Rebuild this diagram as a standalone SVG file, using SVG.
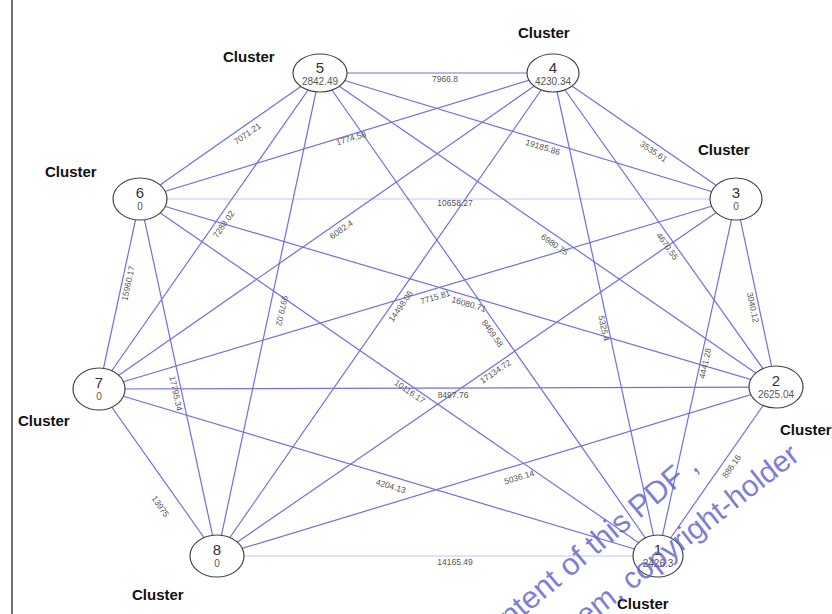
<svg xmlns="http://www.w3.org/2000/svg" width="832" height="614" viewBox="0 0 832 614">
<style>
.e{stroke:#6f6fe6;stroke-width:1.2;fill:none}
.el{stroke:#c4c4f5;stroke-width:1.2}
.lb{font-family:"Liberation Sans",Arial,sans-serif;font-size:8.5px;fill:#555;text-anchor:middle}
.nd{fill:#fff;stroke:#444;stroke-width:1.2}
.num{font-family:"Liberation Sans",Arial,sans-serif;font-size:15px;fill:#333;text-anchor:middle}
.val{font-family:"Liberation Sans",Arial,sans-serif;font-size:10px;fill:#555;text-anchor:middle}
.cl{font-family:"Liberation Sans",Arial,sans-serif;font-size:15px;font-weight:bold;fill:#111}
.wm{font-family:"Liberation Sans",Arial,sans-serif;fill:#5a5acc;fill-opacity:0.8}
</style>
<rect width="832" height="614" fill="#fff"/>
<line x1="12" y1="0" x2="12" y2="614" stroke="#444" stroke-width="1.5"/>
<g id="connectors">
<line class="e" x1="320" y1="73" x2="553" y2="73"/>
<line class="e" x1="320" y1="73" x2="140" y2="199"/>
<line class="e" x1="553" y1="73" x2="140" y2="199"/>
<line class="e" x1="320" y1="73" x2="736" y2="199"/>
<line class="e" x1="553" y1="73" x2="736" y2="199"/>
<line class="e el" x1="140" y1="199" x2="736" y2="199"/>
<line class="e" x1="320" y1="73" x2="99" y2="389"/>
<line class="e" x1="553" y1="73" x2="99" y2="389"/>
<line class="e" x1="320" y1="73" x2="217" y2="556"/>
<line class="e" x1="140" y1="199" x2="99" y2="389"/>
<line class="e" x1="140" y1="199" x2="217" y2="556"/>
<line class="e" x1="99" y1="389" x2="217" y2="556"/>
<line class="e" x1="99" y1="389" x2="776" y2="387"/>
<line class="e" x1="140" y1="199" x2="776" y2="387"/>
<line class="e" x1="99" y1="389" x2="736" y2="199"/>
<line class="e" x1="553" y1="73" x2="217" y2="556"/>
<line class="e" x1="320" y1="73" x2="658" y2="556"/>
<line class="e" x1="217" y1="556" x2="736" y2="199"/>
<line class="e" x1="140" y1="199" x2="658" y2="556"/>
<line class="e" x1="99" y1="389" x2="658" y2="556"/>
<line class="e" x1="217" y1="556" x2="776" y2="387"/>
<line class="e" x1="776" y1="387" x2="658" y2="556"/>
<line class="e" x1="736" y1="199" x2="776" y2="387"/>
<line class="e" x1="736" y1="199" x2="658" y2="556"/>
<line class="e" x1="553" y1="73" x2="658" y2="556"/>
<line class="e" x1="553" y1="73" x2="776" y2="387"/>
<line class="e" x1="320" y1="73" x2="776" y2="387"/>
<line class="e el" x1="217" y1="556" x2="658" y2="556"/>
</g>
<g id="edge-labels">
<text class="lb" transform="translate(445,82)">7966.8</text>
<text class="lb" transform="translate(249,136) rotate(-35)">7071.21</text>
<text class="lb" transform="translate(352,141) rotate(-17)">1774.58</text>
<text class="lb" transform="translate(542,150) rotate(17)">19185.86</text>
<text class="lb" transform="translate(652,154) rotate(34.5)">3535.61</text>
<text class="lb" transform="translate(455,206)">10658.27</text>
<text class="lb" transform="translate(226,226) rotate(-55)">7288.02</text>
<text class="lb" transform="translate(343,232) rotate(-35)">6082.4</text>
<text class="lb" transform="translate(279,310) rotate(102)">9979.02</text>
<text class="lb" transform="translate(131,284) rotate(-78)">15960.17</text>
<text class="lb" transform="translate(173,394) rotate(78)">17795.34</text>
<text class="lb" transform="translate(158,508) rotate(55)">13975</text>
<text class="lb" transform="translate(453,398)">8497.76</text>
<text class="lb" transform="translate(468,307) rotate(16.5)">16080.71</text>
<text class="lb" transform="translate(436,300) rotate(-16.6)">7715.81</text>
<text class="lb" transform="translate(403,308) rotate(-55)">14498.06</text>
<text class="lb" transform="translate(490,335) rotate(55)">8469.58</text>
<text class="lb" transform="translate(497,374) rotate(-34.5)">17134.72</text>
<text class="lb" transform="translate(408,394) rotate(34.6)">10116.17</text>
<text class="lb" transform="translate(390,489) rotate(16.6)">4204.13</text>
<text class="lb" transform="translate(520,480) rotate(-16.8)">5036.14</text>
<text class="lb" transform="translate(734,468) rotate(-55)">886.16</text>
<text class="lb" transform="translate(750,308) rotate(78)">3040.12</text>
<text class="lb" transform="translate(708,364) rotate(-77.7)">4441.28</text>
<text class="lb" transform="translate(601,329) rotate(77.7)">5325.4</text>
<text class="lb" transform="translate(665,248) rotate(54.6)">4670.55</text>
<text class="lb" transform="translate(553,247) rotate(34.6)">6980.75</text>
<text class="lb" transform="translate(455,565)">14165.49</text>
</g>
<g id="node5"><ellipse class="nd" cx="320" cy="73" rx="27" ry="19"/><text class="num" x="320" y="73">5</text><text class="val" x="320" y="85">2842.49</text><text class="cl" x="223" y="62">Cluster</text></g>
<g id="node4"><ellipse class="nd" cx="553" cy="73" rx="26" ry="19"/><text class="num" x="553" y="73">4</text><text class="val" x="553" y="85">4230.34</text><text class="cl" x="518" y="38">Cluster</text></g>
<g id="node6"><ellipse class="nd" cx="140" cy="199" rx="27" ry="21"/><text class="num" x="140" y="198">6</text><text class="val" x="140" y="210">0</text><text class="cl" x="45" y="177">Cluster</text></g>
<g id="node3"><ellipse class="nd" cx="736" cy="199" rx="26" ry="21"/><text class="num" x="736" y="198">3</text><text class="val" x="736" y="210">0</text><text class="cl" x="698" y="155">Cluster</text></g>
<g id="node7"><ellipse class="nd" cx="99" cy="389" rx="26" ry="21"/><text class="num" x="99" y="388">7</text><text class="val" x="99" y="400">0</text><text class="cl" x="18" y="426">Cluster</text></g>
<g id="node2"><ellipse class="nd" cx="776" cy="387" rx="27" ry="21"/><text class="num" x="776" y="386">2</text><text class="val" x="776" y="398">2625.04</text><text class="cl" x="780" y="435">Cluster</text></g>
<g id="node8"><ellipse class="nd" cx="217" cy="556" rx="27" ry="21"/><text class="num" x="217" y="555">8</text><text class="val" x="217" y="567">0</text><text class="cl" x="132" y="600">Cluster</text></g>
<g id="node1"><ellipse class="nd" cx="658" cy="556" rx="25" ry="21"/><text class="num" x="658" y="555">1</text><text class="val" x="658" y="567">2426.3</text><text class="cl" x="617" y="609">Cluster</text></g>
<g id="watermark">
<text class="wm" font-size="31" transform="translate(510,628) rotate(-40)">ntent of this PDF ,</text>
<text class="wm" font-size="30" transform="translate(579,632) rotate(-38)">tem, copyright-holder</text>
</g>
</svg>
